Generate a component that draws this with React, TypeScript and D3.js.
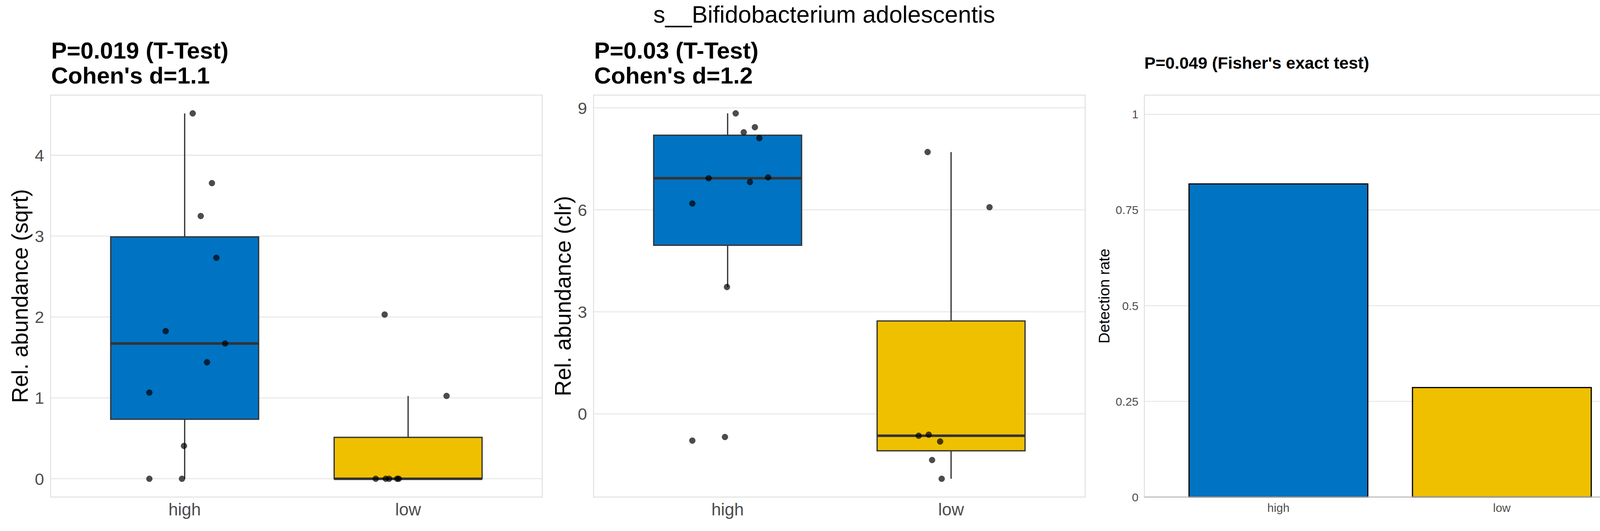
import React, { useEffect } from 'react';
import * as d3 from 'd3';

// groups and per-sample values (same sample order in both abundance panels)
const groups = ['high', 'low'];
const sqrtHigh = [4.517, 3.655, 3.248, 2.732, 1.825, 1.672, 1.44, 1.065, 0.406, 0, 0];
const sqrtLow = [2.03, 1.024, 0, 0, 0, 0, 0];
const clrHigh = [8.837, 8.43, 8.28, 8.11, 6.93, 6.956, 6.818, 6.185, 3.73, -0.789, -0.681];
const clrLow = [7.7, 6.077, -0.645, -0.614, -1.36, -0.815, -1.91];
// horizontal jitter of each sample, in category units
const jitterHigh = [0.036, 0.122, 0.072, 0.142, -0.085, 0.181, 0.1, -0.158, -0.003, -0.158, -0.012];
const jitterLow = [-0.105, 0.172, -0.145, -0.1, -0.085, -0.049, -0.042];
const detectionRate = [0.818, 0.286];

const ticksSqrt = [0, 1, 2, 3, 4];
const ticksClr = [0, 3, 6, 9];
const ticksRate = [0, 0.25, 0.5, 0.75, 1];
const rateLabels = ['0', '0.25', '0.5', '0.75', '1'];

const mainTitle = 's__Bifidobacterium adolescentis';
const titlesSqrt = ['P=0.019 (T-Test)', "Cohen's d=1.1"];
const titlesClr = ['P=0.03 (T-Test)', "Cohen's d=1.2"];
const titleRate = "P=0.049 (Fisher's exact test)";

const colors = ['#0073C2', '#EFC000'];
const FONT = '"Liberation Sans", Arial, Helvetica, sans-serif';

const W = 4220;
const H = 1360;
const panelW = 1258.5;
const top = 243.6;
const bottom = 1273;

const boxStats = (vals: number[]) => {
  const s = [...vals].sort(d3.ascending);
  const q1 = d3.quantile(s, 0.25)!;
  const med = d3.quantile(s, 0.5)!;
  const q3 = d3.quantile(s, 0.75)!;
  const iqr = q3 - q1;
  const lo = d3.min(s.filter((v) => v >= q1 - 1.5 * iqr))!;
  const hi = d3.max(s.filter((v) => v <= q3 + 1.5 * iqr))!;
  return { q1, med, q3, lo, hi };
};

type BoxProps = {
  left: number;
  titles: string[];
  yLabel: string;
  series: number[][];
  ticks: number[];
};

const BoxPanel: React.FC<BoxProps> = ({ left, titles, yLabel, series, ticks }) => {
  const x = d3.scaleLinear().domain([0.4, 2.6]).range([left, left + panelW]);
  const [mn, mx] = d3.extent(series.flat()) as [number, number];
  const pad = (mx - mn) * 0.05;
  const y = d3.scaleLinear().domain([mn - pad, mx + pad]).range([bottom, top]);
  const jit = [jitterHigh, jitterLow];
  const halfW = 0.331;

  return (
    <g>
      {titles.map((t, i) => (
        <text key={t} x={left + 1.5} y={149.5 + i * 64.5} fontSize={60} fontWeight="bold" fill="#000">
          {t}
        </text>
      ))}
      {ticks.map((t) => (
        <line key={'g' + t} x1={left} x2={left + panelW} y1={y(t)} y2={y(t)} stroke="#dedede" strokeWidth={1.8} />
      ))}
      <rect x={left} y={top} width={panelW} height={bottom - top} fill="none" stroke="#d6d6d6" strokeWidth={1.8} />
      {ticks.map((t) => (
        <text key={'t' + t} x={left - 16.7} y={y(t)} dy="0.358em" textAnchor="end" fontSize={43} fill="#4d4d4d">
          {t}
        </text>
      ))}
      <text
        transform={`translate(${left - 58.8},${(top + bottom) / 2}) rotate(-90)`}
        textAnchor="middle"
        fontSize={57}
        fill="#000"
      >
        {yLabel}
      </text>
      {series.map((vals, i) => {
        const st = boxStats(vals);
        const cx = x(i + 1);
        return (
          <g key={groups[i]}>
            <line x1={cx} x2={cx} y1={y(st.q3)} y2={y(st.hi)} stroke="#333" strokeWidth={3.2} />
            <line x1={cx} x2={cx} y1={y(st.q1)} y2={y(st.lo)} stroke="#333" strokeWidth={3.2} />
            <rect
              x={x(i + 1 - halfW)}
              y={y(st.q3)}
              width={x(i + 1 + halfW) - x(i + 1 - halfW)}
              height={y(st.q1) - y(st.q3)}
              fill={colors[i]}
              stroke="#333"
              strokeWidth={3.2}
            />
            <line x1={x(i + 1 - halfW)} x2={x(i + 1 + halfW)} y1={y(st.med)} y2={y(st.med)} stroke="#333" strokeWidth={6.5} />
            <text x={cx} y={1320} textAnchor="middle" fontSize={44} fill="#4d4d4d">
              {groups[i]}
            </text>
          </g>
        );
      })}
      {series.map((vals, i) =>
        vals.map((v, j) => (
          <circle
            key={groups[i] + j}
            cx={x(i + 1 + jit[i][j])}
            cy={y(v)}
            r={7.8}
            fill="#000"
            fillOpacity={0.7}
            stroke="#000"
            strokeOpacity={0.35}
            strokeWidth={1}
          />
        ))
      )}
    </g>
  );
};

const RatePanel: React.FC<{ left: number }> = ({ left }) => {
  const x = d3.scaleLinear().domain([0.4, 2.6]).range([left, left + panelW]);
  const y = d3.scaleLinear().domain([0, 1.05]).range([bottom, top]);
  const halfW = 0.4;
  return (
    <g>
      <text x={left} y={176} fontSize={43} fontWeight="bold" fill="#000">
        {titleRate}
      </text>
      {ticksRate.slice(1).map((t) => (
        <line key={'g' + t} x1={left} x2={left + panelW} y1={y(t)} y2={y(t)} stroke="#dedede" strokeWidth={1.8} />
      ))}
      <rect x={left} y={top} width={panelW} height={bottom - top} fill="none" stroke="#d6d6d6" strokeWidth={1.8} />
      {detectionRate.map((v, i) => (
        <rect
          key={groups[i]}
          x={x(i + 1 - halfW)}
          y={y(v)}
          width={x(i + 1 + halfW) - x(i + 1 - halfW)}
          height={y(0) - y(v)}
          fill={colors[i]}
          stroke="#000"
          strokeWidth={3}
        />
      ))}
      <line x1={left} x2={left + panelW} y1={bottom} y2={bottom} stroke="#b3b3b3" strokeWidth={2.5} />
      {ticksRate.map((t, i) => (
        <text key={'t' + t} x={left - 15} y={y(t)} dy="0.358em" textAnchor="end" fontSize={30} fill="#4d4d4d">
          {rateLabels[i]}
        </text>
      ))}
      {groups.map((g, i) => (
        <text key={g} x={x(i + 1)} y={1311} textAnchor="middle" fontSize={30} fill="#4d4d4d">
          {g}
        </text>
      ))}
      <text
        transform={`translate(${left - 89.5},${(top + bottom) / 2}) rotate(-90)`}
        textAnchor="middle"
        fontSize={39}
        fill="#000"
      >
        Detection rate
      </text>
    </g>
  );
};

const App: React.FC = () => {
  useEffect(() => {
    document.body.style.margin = '0';
    document.body.style.overflow = 'hidden';
  }, []);

  return (
    <svg
      width={W}
      height={H}
      style={{ position: 'absolute', left: 0, top: 0, background: '#fff' }}
      fontFamily={FONT}
    >
      <rect width={W} height={H} fill="#fff" />
      <text x={W / 2} y={58} textAnchor="middle" fontSize={61} fill="#000">
        {mainTitle}
      </text>
      <BoxPanel left={129.5} titles={titlesSqrt} yLabel="Rel. abundance (sqrt)" series={[sqrtHigh, sqrtLow]} ticks={ticksSqrt} />
      <BoxPanel left={1519.5} titles={titlesClr} yLabel="Rel. abundance (clr)" series={[clrHigh, clrLow]} ticks={ticksClr} />
      <RatePanel left={2929.5} />
    </svg>
  );
};

export default App;
